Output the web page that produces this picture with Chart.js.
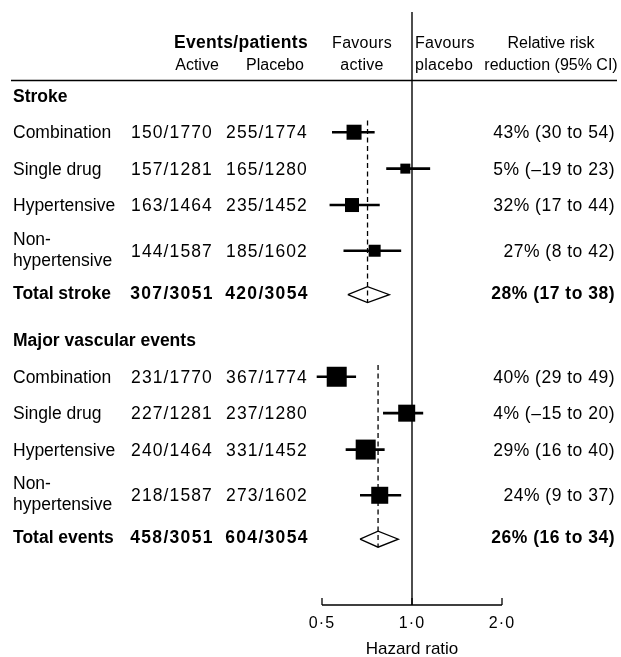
<!DOCTYPE html>
<html>
<head>
<meta charset="utf-8">
<script src="https://cdn.jsdelivr.net/npm/chart.js@4.4.0/dist/chart.umd.min.js"></script>
<style>
  body { margin: 0; background: #fff; }
  #wrap { width: 621px; height: 657px; position: relative; }
</style>
</head>
<body>
<div id="wrap"><canvas id="forest"></canvas></div>
<script>
// table rows, top to bottom
const rowLabels = ['Stroke', 'Combination', 'Single drug', 'Hypertensive', 'Non-\nhypertensive', 'Total stroke',
  'Major vascular events', 'Combination', 'Single drug', 'Hypertensive', 'Non-\nhypertensive', 'Total events'];
const rowKinds = ['head', 'row', 'row', 'row', 'tall', 'total', 'head', 'row', 'row', 'row', 'tall', 'total'];
const activeEvents = [null, '150/1770', '157/1281', '163/1464', '144/1587', '307/3051',
  null, '231/1770', '227/1281', '240/1464', '218/1587', '458/3051'];
const placeboEvents = [null, '255/1774', '165/1280', '235/1452', '185/1602', '420/3054',
  null, '367/1774', '237/1280', '331/1452', '273/1602', '604/3054'];
const hazardRatio = [null, 0.64, 0.95, 0.63, 0.75, 0.71, null, 0.56, 0.96, 0.70, 0.78, 0.77];
const ciLow = [null, 0.54, 0.82, 0.53, 0.59, 0.61, null, 0.48, 0.80, 0.60, 0.67, 0.67];
const ciHigh = [null, 0.75, 1.15, 0.78, 0.92, 0.84, null, 0.65, 1.09, 0.81, 0.92, 0.90];
const riskReduction = [null, '43% (30 to 54)', '5% (–19 to 23)', '32% (17 to 44)', '27% (8 to 42)', '28% (17 to 38)',
  null, '40% (29 to 49)', '4% (–15 to 20)', '29% (16 to 40)', '24% (9 to 37)', '26% (16 to 34)'];
const xTicks = [0.5, 1, 2];
const xTickLabels = ['0·5', '1·0', '2·0'];

// style: box side in px for each estimate
const boxSide = [0, 15, 10, 14, 12, 0, 0, 20, 17, 20, 17, 0];

const FONT = "'Liberation Sans', Arial, sans-serif";
const ROW_UNIT = 35.7;     // px per row step
const FIRST_ROW_Y = 95.8;  // px of first row
const AXIS_Y = 605;

// vertical positions of rows in row units
const stepSize = { 'head>row': 1.02, 'row>row': 1.02, 'row>tall': 1.28, 'tall>total': 1.17, 'total>head': 1.34 };
const rowPos = [];
rowKinds.forEach((k, i) => {
  if (i === 0) { rowPos.push(0); return; }
  rowPos.push(rowPos[i - 1] + (stepSize[rowKinds[i - 1] + '>' + k] || 1));
});

const datasets = [];

// confidence interval lines
rowKinds.forEach((k, i) => {
  if (k !== 'row' && k !== 'tall') return;
  datasets.push({
    type: 'scatter', showLine: true, clip: false,
    data: [{ x: ciLow[i], y: rowPos[i] }, { x: ciHigh[i], y: rowPos[i] }],
    borderColor: '#000', borderWidth: 2.6, pointRadius: 0
  });
});

// boxes
const boxIdx = rowKinds.map((k, i) => (k === 'row' || k === 'tall') ? i : -1).filter(i => i >= 0);
datasets.push({
  type: 'scatter', clip: false,
  data: boxIdx.map(i => ({ x: hazardRatio[i], y: rowPos[i] })),
  pointStyle: 'rect',
  pointRadius: boxIdx.map(i => boxSide[i] / Math.SQRT2),
  backgroundColor: '#000', borderWidth: 0
});

// diamonds for totals + dashed lines through them
const diamondHalf = 8 / ROW_UNIT;
rowKinds.forEach((k, i) => {
  if (k !== 'total') return;
  const y = rowPos[i] + 0.06;
  datasets.push({
    type: 'scatter', showLine: true, clip: false,
    data: [
      { x: ciLow[i], y: y }, { x: hazardRatio[i], y: y - diamondHalf },
      { x: ciHigh[i], y: y }, { x: hazardRatio[i], y: y + diamondHalf },
      { x: ciLow[i], y: y }
    ],
    borderColor: '#000', borderWidth: 1.3, pointRadius: 0, tension: 0
  });
  let first = i;
  while (first > 0 && rowKinds[first - 1] !== 'head') first--;
  datasets.push({
    type: 'scatter', showLine: true, clip: false,
    data: [{ x: hazardRatio[i], y: rowPos[first] - 0.33 }, { x: hazardRatio[i], y: y + diamondHalf }],
    borderColor: '#000', borderWidth: 1.3, borderDash: [5, 3.5], pointRadius: 0
  });
});

function text(ctx, str, x, y, font, align, spacing) {
  ctx.font = font;
  ctx.letterSpacing = (spacing || 0) + 'px';
  ctx.textAlign = align || 'left';
  ctx.textBaseline = 'alphabetic';
  ctx.fillText(str, x, y);
  ctx.letterSpacing = '0px';
}

const forestTable = {
  id: 'forestTable',
  beforeDatasetsDraw(chart) {
    const { ctx } = chart;
    const xs = chart.scales.x;
    ctx.save();
    // line of no effect
    ctx.strokeStyle = '#3a3a3a';
    ctx.lineWidth = 1.8;
    ctx.beginPath();
    ctx.moveTo(xs.getPixelForValue(1), 12);
    ctx.lineTo(xs.getPixelForValue(1), AXIS_Y);
    ctx.stroke();
    // header rule
    ctx.strokeStyle = '#000';
    ctx.lineWidth = 1.5;
    ctx.beginPath();
    ctx.moveTo(11, 80.5);
    ctx.lineTo(617, 80.5);
    ctx.stroke();
    // hazard ratio axis
    ctx.lineWidth = 1.3;
    ctx.beginPath();
    ctx.moveTo(xs.getPixelForValue(xTicks[0]), AXIS_Y);
    ctx.lineTo(xs.getPixelForValue(xTicks[xTicks.length - 1]), AXIS_Y);
    xTicks.forEach(t => {
      ctx.moveTo(xs.getPixelForValue(t), AXIS_Y);
      ctx.lineTo(xs.getPixelForValue(t), AXIS_Y - 7);
    });
    ctx.stroke();
    ctx.restore();
  },
  afterDraw(chart) {
    const { ctx } = chart;
    const xs = chart.scales.x, ys = chart.scales.y;
    ctx.save();
    ctx.fillStyle = '#000';
    const reg = '17.5px ' + FONT, bold = 'bold 17.5px ' + FONT, head = '16px ' + FONT;

    // column headings
    text(ctx, 'Events/patients', 241, 48, 'bold 17.5px ' + FONT, 'center', 0.3);
    text(ctx, 'Active', 197, 70, head, 'center');
    text(ctx, 'Placebo', 275, 70, head, 'center');
    text(ctx, 'Favours', 362, 48, head, 'center', 0.3);
    text(ctx, 'active', 362, 70, head, 'center', 0.3);
    text(ctx, 'Favours', 415, 48, head, 'left', 0.3);
    text(ctx, 'placebo', 415, 70, head, 'left', 0.3);
    text(ctx, 'Relative risk', 551, 48, head, 'center');
    text(ctx, 'reduction (95% CI)', 551, 70, head, 'center');

    rowLabels.forEach((lab, i) => {
      const y = ys.getPixelForValue(rowPos[i]);
      const k = rowKinds[i];
      const isBold = k === 'head' || k === 'total';
      const f = isBold ? bold : reg;
      const base = y + 6;
      if (k === 'tall') {
        const parts = lab.split('\n');
        text(ctx, parts[0], 13, y - 6, f);
        text(ctx, parts[1], 13, y + 15, f);
      } else {
        text(ctx, lab, 13, base, f);
      }
      if (activeEvents[i]) {
        const sp = isBold ? 1.3 : 1.1;
        text(ctx, activeEvents[i], 172, base, f, 'center', sp);
        text(ctx, placeboEvents[i], 267, base, f, 'center', sp);
        text(ctx, riskReduction[i], 615, base, f, 'right', 0.5);
      }
    });

    // axis labels
    xTicks.forEach((t, j) => text(ctx, xTickLabels[j], xs.getPixelForValue(t), 628, '16px ' + FONT, 'center', 1.2));
    text(ctx, 'Hazard ratio', xs.getPixelForValue(1), 654, '17px ' + FONT, 'center');
    ctx.restore();
  }
};

new Chart(document.getElementById('forest'), {
  type: 'scatter',
  data: { datasets: datasets },
  options: {
    responsive: true,
    maintainAspectRatio: false,
    animation: false,
    layout: { autoPadding: false, padding: { left: 322, right: 119, top: 0, bottom: 657 - AXIS_Y } },
    scales: {
      x: { type: 'logarithmic', bounds: 'data', min: xTicks[0], max: xTicks[xTicks.length - 1], display: false },
      y: {
        type: 'linear', bounds: 'data', reverse: true, display: false,
        min: -FIRST_ROW_Y / ROW_UNIT, max: (AXIS_Y - FIRST_ROW_Y) / ROW_UNIT
      }
    },
    plugins: { legend: { display: false }, tooltip: { enabled: false } }
  },
  plugins: [forestTable]
});
</script>
</body>
</html>
